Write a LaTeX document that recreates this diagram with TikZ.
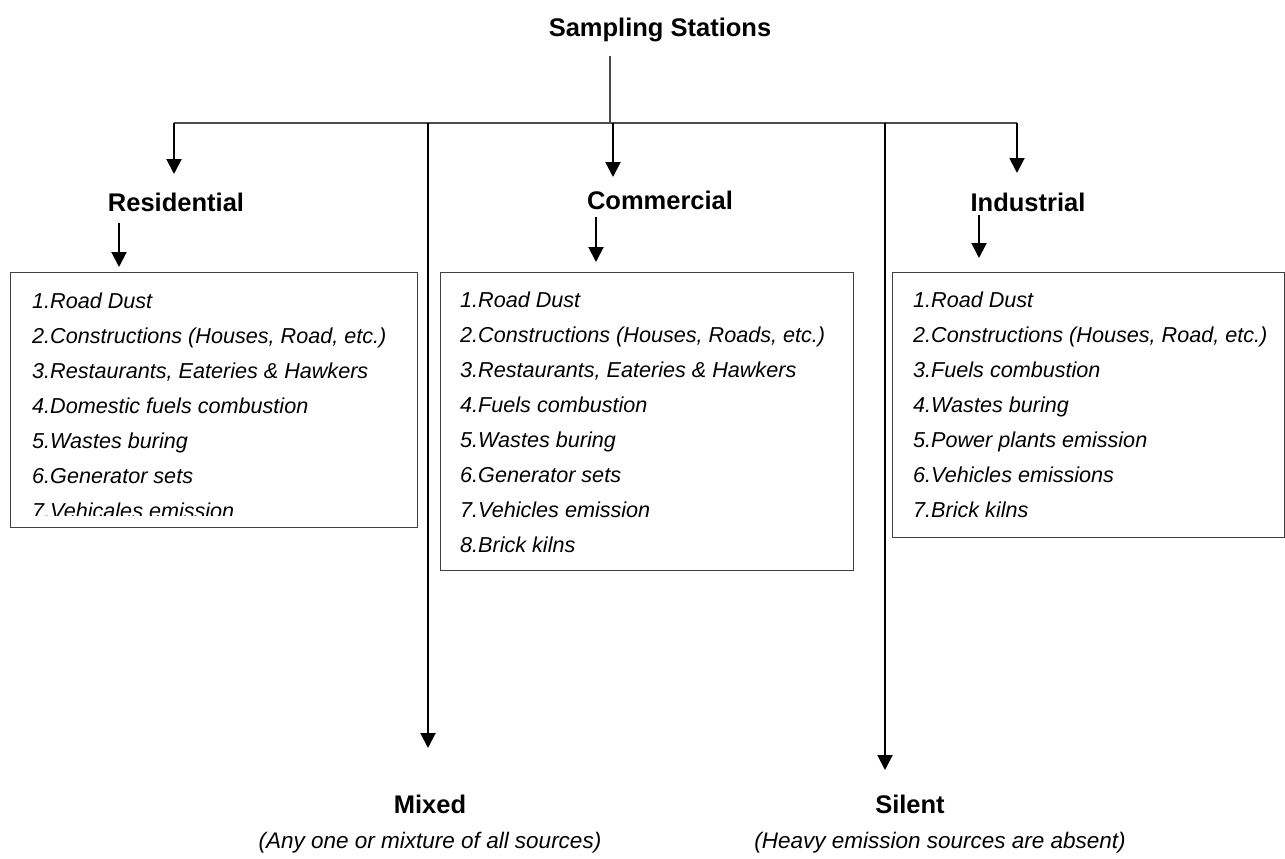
\documentclass[tikz,border=0pt]{standalone}
\usepackage{fontspec}
\setmainfont{Liberation Sans}
\usetikzlibrary{arrows.meta}
\begin{document}
\begin{tikzpicture}[x=1pt,y=-1pt,
  head/.style={font=\fontsize{25.5}{30}\selectfont\bfseries, inner sep=0pt, anchor=base},
  item/.style={font=\fontsize{21.6}{26}\selectfont\itshape, anchor=base west, inner sep=0pt},
  sub/.style={font=\fontsize{22.5}{27}\selectfont\itshape, inner sep=0pt, anchor=base},
  listbox/.style={draw=black!75, line width=1.3pt, anchor=north west, inner sep=0pt},
  link/.style={draw=black!70, line width=1.5pt},
  arr/.style={draw=black, line width=2pt, -{Triangle[width=15pt,length=15pt]}}
]
\useasboundingbox (0,0) rectangle (1285,859);

% titles
\node[head] (title) at (660,37) {Sampling Stations};
\node[head] (res) at (176,211) {Residential};
\node[head] (com) at (660,209) {Commercial};
\node[head] (ind) at (1028,211) {Industrial};
\node[head] (mix) at (430,813) {Mixed};
\node[head] (sil) at (910,813) {Silent};
\node[sub] (mixsub) at (430,848) {(Any one or mixture of all sources)};
\node[sub] (silsub) at (940,848) {(Heavy emission sources are absent)};

% boxes
\node[listbox, minimum width=407pt, minimum height=255pt] (rbox) at (10,272) {};
\node[listbox, minimum width=413pt, minimum height=298pt] (cbox) at (440,272) {};
\node[listbox, minimum width=392pt, minimum height=265pt] (ibox) at (892,272) {};

% residential items (last line clipped by box)
\begin{scope}
\clip (10,272) rectangle (417,515);
\foreach \t [count=\i] in {1.Road Dust,
  2.Constructions (Houses{,} Road{,} etc.),
  3.Restaurants{,} Eateries \& Hawkers,
  4.Domestic fuels combustion,
  5.Wastes buring,
  6.Generator sets,
  7.Vehicales emission}
  \node[item] (r\i) at (32,{308+35*(\i-1)}) {\t};
\end{scope}

\foreach \t [count=\i] in {1.Road Dust,
  2.Constructions (Houses{,} Roads{,} etc.),
  3.Restaurants{,} Eateries \& Hawkers,
  4.Fuels combustion,
  5.Wastes buring,
  6.Generator sets,
  7.Vehicles emission,
  8.Brick kilns}
  \node[item] (c\i) at (460,{307+35*(\i-1)}) {\t};

\foreach \t [count=\i] in {1.Road Dust,
  2.Constructions (Houses{,} Road{,} etc.),
  3.Fuels combustion,
  4.Wastes buring,
  5.Power plants emission,
  6.Vehicles emissions,
  7.Brick kilns}
  \node[item] (i\i) at (913,{307+35*(\i-1)}) {\t};

% connector skeleton
\coordinate (top) at (610,56);
\coordinate (hub) at (610,123);
\coordinate (hl) at (174,123);
\coordinate (hr) at (1017,123);
\coordinate (hc) at (613,123);
\coordinate (hm) at (428,123);
\coordinate (hs) at (885,123);
\draw[link] (top) -- (hub);
\draw[link] (hl) -- (hr);

% arrows to categories
\coordinate (resT) at (174,174);
\coordinate (comT) at (613,177);
\coordinate (indT) at (1017,173);
\draw[arr] (hl) -- (resT);
\draw[arr] (hc) -- (comT);
\draw[arr] (hr) -- (indT);

% long arrows
\coordinate (mixT) at (428,748);
\coordinate (silT) at (885,770);
\draw[arr] (hm) -- (mixT);
\draw[arr] (hs) -- (silT);

% arrows from labels to boxes
\coordinate (ra) at (119,223);
\coordinate (rb) at (119,267);
\coordinate (ca) at (596,217);
\coordinate (cb) at (596,262);
\coordinate (ia) at (979,215);
\coordinate (ib) at (979,258);
\draw[arr] (ra) -- (rb);
\draw[arr] (ca) -- (cb);
\draw[arr] (ia) -- (ib);
\end{tikzpicture}
\end{document}
